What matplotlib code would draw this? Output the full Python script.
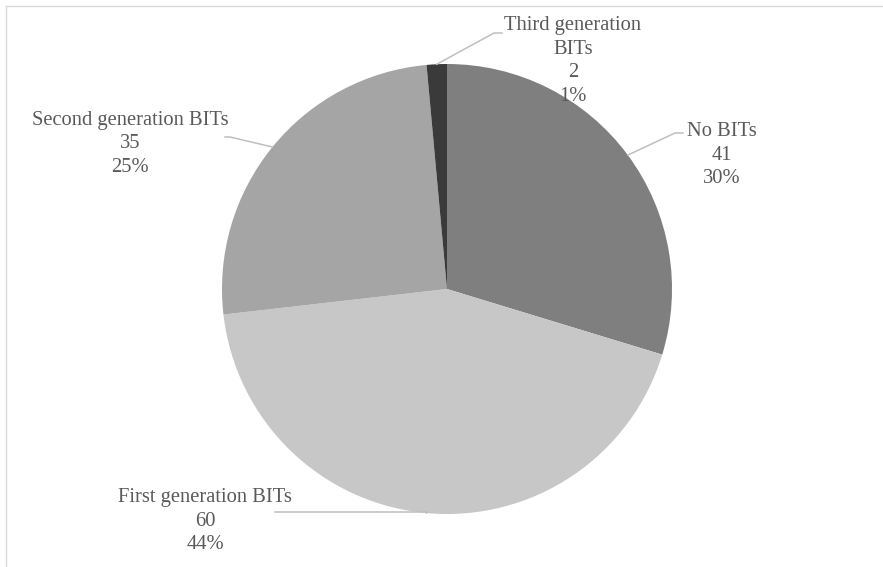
import numpy as np
import matplotlib.pyplot as plt

plt.rcParams['font.family'] = ['Liberation Serif', 'DejaVu Serif']

categories = ["No BITs", "First generation BITs", "Second generation BITs", "Third generation\nBITs"]
counts = [41, 60, 35, 2]
colors = ["#7f7f7f", "#c7c7c7", "#a5a5a5", "#3a3a3a"]

W, H = 883, 567
cx, cy, r = 447, 289, 225

# label block centres and leader elbows (pixels from top-left)
label_pos = [(722, 155), (205, 521), (130, 144), (573, 61)]
elbow_pos = [(675, 133), (427, 512), (230, 137), (494, 33)]
elbow_end = [(683, 133), (275, 512), (225, 137), (502, 33)]


def rounded_percents(values):
    # largest remainder rounding so the labels add up to 100
    raw = np.array(values, dtype=float) * 100 / sum(values)
    base = np.floor(raw).astype(int)
    short = 100 - base.sum()
    order = np.argsort(-(raw - base))
    base[order[:short]] += 1
    return base


fig = plt.figure(figsize=(W / 100, H / 100), dpi=100)
ax = fig.add_axes([(cx - r) / W, (H - cy - r) / H, 2 * r / W, 2 * r / H])
ax.set_aspect("equal")
ax.axis("off")

wedges, _ = ax.pie(counts, colors=colors, startangle=90, counterclock=False,
                   radius=1, center=(0, 0), frame=False)
ax.set_xlim(-1, 1)
ax.set_ylim(-1, 1)


def to_data(px, py):
    return (px - cx) / r, (cy - py) / r


pcts = rounded_percents(counts)
for w, name, n, pct, lp, ep, ee in zip(wedges, categories, counts, pcts,
                                       label_pos, elbow_pos, elbow_end):
    mid = np.deg2rad((w.theta1 + w.theta2) / 2)
    sx, sy = np.cos(mid), np.sin(mid)
    ex, ey = to_data(*ep)
    fx, fy = to_data(*ee)
    ax.plot([sx, ex, fx], [sy, ey, fy], color="#bfbfbf", lw=1.1, clip_on=False)
    tx, ty = to_data(*lp)
    ax.text(tx, ty, f"{name}\n{n}\n{pct}%", ha="center", va="center",
            multialignment="center", fontsize=14.8, color="#595959",
            linespacing=1.33, clip_on=False)

# chart frame, only its top and left edges fall inside the image
fig.add_artist(plt.Line2D([6 / W, 1], [1 - 6 / H, 1 - 6 / H], color="#d9d9d9", lw=1))
fig.add_artist(plt.Line2D([6 / W, 6 / W], [0, 1 - 6 / H], color="#d9d9d9", lw=1))

fig.savefig("out.png", dpi=100)
